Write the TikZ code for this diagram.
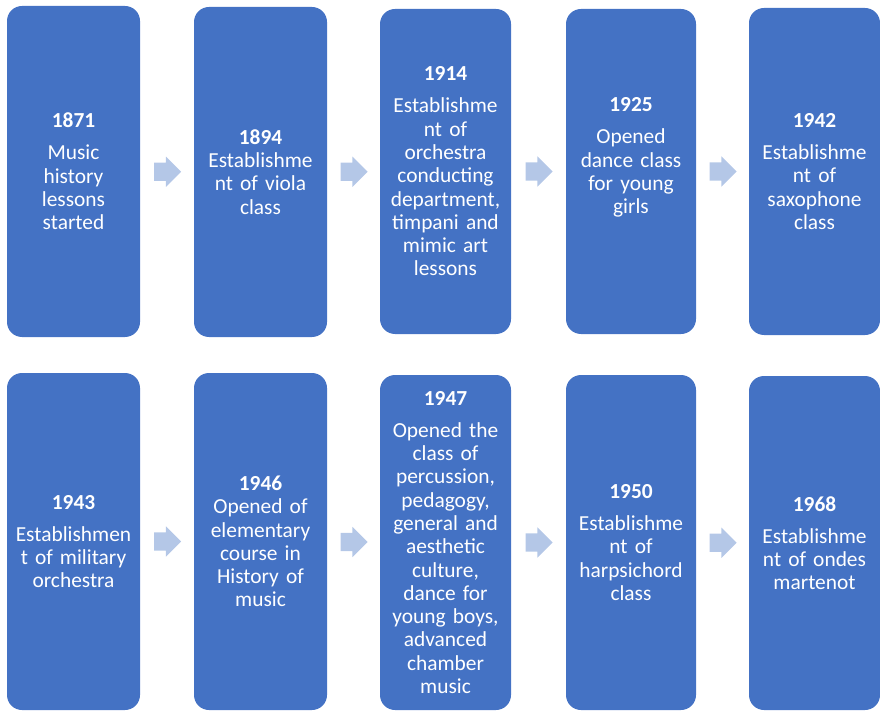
\documentclass[tikz,border=0pt]{standalone}
\usepackage{fontspec}
\setmainfont{Carlito}
\usepackage{tikz}
\usetikzlibrary{shapes.arrows, calc}

\definecolor{boxblue}{HTML}{4472C4}
\definecolor{arrowblue}{HTML}{B4C7E7}

\tikzset{
    yearbox/.style={fill=boxblue, rounded corners=15pt, text=white, align=center,
        inner sep=0pt, text width=128pt, minimum width=133pt,
        font=\fontsize{21.4}{23.3}\selectfont},
    nextarrow/.style={single arrow, fill=arrowblue, inner xsep=0pt, inner ysep=9pt,
        minimum height=27pt, minimum width=0pt, single arrow head extend=6pt,
        xshift=-4pt}
}

\begin{document}
\begin{tikzpicture}[x=1pt, y=-1pt]
    \useasboundingbox (0,0) rectangle (880,711);

    % First row
    \node[yearbox, minimum height=331pt] (b1) at (73.5,171.5)
        {\textbf{1871}\\[8.7pt]Music\\history\\lessons\\started};
    \node[yearbox, minimum height=330pt] (b2) at (260.5,172)
        {\textbf{1894}\\Establishme\\nt of viola\\class};
    \node[yearbox, minimum height=325pt, minimum width=131pt] (b3) at (445.5,171.5)
        {\textbf{1914}\\[8.7pt]Establishme\\nt of\\orchestra\\conducting\\department,\\timpani and\\mimic art\\lessons};
    \node[yearbox, minimum height=325pt, minimum width=130pt] (b4) at (631,171.5)
        {\textbf{1925}\\[8.7pt]Opened\\dance class\\for young\\girls\\[8pt]\mbox{}};
    \node[yearbox, minimum height=327pt, minimum width=131pt] (b5) at (814.5,171.5)
        {\textbf{1942}\\[8.7pt]Establishme\\nt of\\saxophone\\class};

    % Second row
    \node[yearbox, minimum height=337pt] (c1) at (73.5,541.5)
        {\textbf{1943}\\[8.7pt]Establishmen\\t of military\\orchestra};
    \node[yearbox, minimum height=337pt] (c2) at (260.5,541.5)
        {\textbf{1946}\\Opened of\\elementary\\course in\\History of\\music};
    \node[yearbox, minimum height=335pt, minimum width=131pt] (c3) at (445.5,542.5)
        {\textbf{1947}\\[8.7pt]Opened the\\class of\\percussion,\\pedagogy,\\general and\\aesthetic\\culture,\\dance for\\young boys,\\advanced\\chamber\\music};
    \node[yearbox, minimum height=335pt, minimum width=130pt] (c4) at (631,542.5)
        {\textbf{1950}\\[8.7pt]Establishme\\nt of\\harpsichord\\class};
    \node[yearbox, minimum height=334pt, minimum width=131pt] (c5) at (814.5,543)
        {\textbf{1968}\\[8.7pt]Establishme\\nt of ondes\\martenot};

    % Arrows between the boxes
    \foreach \a/\b in {b1/b2, b2/b3, b3/b4, b4/b5, c1/c2, c2/c3, c3/c4, c4/c5} {
        \node[nextarrow] (arr-\a) at ($(\a.east)!0.5!(\b.west)$) {};
    }
\end{tikzpicture}
\end{document}
